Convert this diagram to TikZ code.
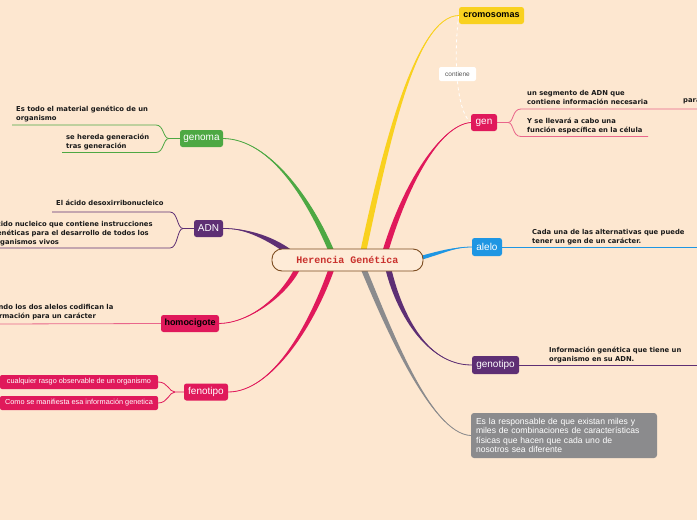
\documentclass[tikz,border=0pt]{standalone}
\usepackage{fontspec}
\setmainfont{Liberation Sans}
\newfontfamily\dvfont{DejaVu Sans}
\newfontfamily\monofont{Liberation Mono}
\usetikzlibrary{calc}
\definecolor{bg}{HTML}{FDE7D0}
\definecolor{gcol}{HTML}{4DA843}
\definecolor{pcol}{HTML}{5E2F74}
\definecolor{rcol}{HTML}{E0195B}
\definecolor{ycol}{HTML}{F9D11F}
\definecolor{bcol}{HTML}{1E96E3}
\definecolor{grcol}{HTML}{8B8B8D}
\definecolor{brownb}{HTML}{7C4C20}
\definecolor{cfill}{HTML}{FEEBD7}
\definecolor{cred}{HTML}{C9302C}
\definecolor{txt}{HTML}{1A1A1A}
\definecolor{pl}{HTML}{E9668B}
\definecolor{contc}{HTML}{555555}
\pgfdeclarelayer{bgfill}
\pgfdeclarelayer{background}
\pgfsetlayers{bgfill,background,main}
\newcommand\taperbranch[6]{%
  \fill[#1] ($(#2)+(#3)$) .. controls ($(#4)+(#3)$) and (#5) .. (#6) .. controls (#5) and ($(#4)-(#3)$) .. ($(#2)-(#3)$) -- cycle;
  \draw[#1,line width=0.8pt] (#2) .. controls (#4) and (#5) .. (#6);
}
\begin{document}
\begin{tikzpicture}[x=1pt,y=-1pt,
  topic/.style={rounded corners=2.5pt, inner sep=0pt, minimum height=17pt, text=white, font=\fontsize{10}{12}\selectfont},
  subtext/.style={inner sep=0pt, anchor=north west, align=left, text=txt, font=\dvfont\bfseries\fontsize{6.8}{8.8}\selectfont},
  thinline/.style={line width=0.8pt},
  pinkbox/.style={fill=rcol, rounded corners=2pt, minimum width=158pt, minimum height=14pt, inner sep=0pt, text=white, font=\fontsize{7.3}{8}\selectfont},
]
\useasboundingbox (0,0) rectangle (697,520);
\begin{pgfonlayer}{bgfill}
\fill[bg] (0,0) rectangle (697,520);
\end{pgfonlayer}
\clip (0,0) rectangle (697,520);

% nodes
\node[draw=brownb, fill=cfill, line width=0.9pt, rounded corners=10pt, minimum width=151pt, minimum height=22pt, inner sep=0pt, text=cred, font=\monofont\bfseries\fontsize{10}{12}\selectfont] (hg) at (347.5,260) {Herencia Genética};

\node[topic, fill=gcol, minimum width=43pt] (genoma) at (201.5,138.5) {genoma};
\node[topic, fill=pcol, minimum width=29pt] (adn) at (208.5,228.5) {ADN};
\node[topic, fill=rcol, minimum width=58pt, text=black, font=\bfseries\fontsize{9}{11}\selectfont] (homo) at (190,323.5) {homocigote};
\node[topic, fill=rcol, minimum width=44pt] (feno) at (206,392) {fenotipo};
\node[topic, fill=ycol, minimum width=65pt, text=black, font=\bfseries\fontsize{9}{11}\selectfont] (crom) at (491.5,15.5) {cromosomas};
\node[topic, fill=rcol, minimum width=26pt] (gen) at (484,122.5) {gen};
\node[topic, fill=bcol, minimum width=30pt, minimum height=18pt] (alelo) at (487,247) {alelo};
\node[topic, fill=pcol, minimum width=47pt, minimum height=18pt] (genotipo) at (495.5,365) {genotipo};
\node[fill=grcol, rounded corners=3pt, minimum width=186pt, minimum height=45pt, text width=176pt, inner xsep=5pt, inner ysep=0pt, align=left, text=white, font=\fontsize{8.6}{9.4}\selectfont] (gbox) at (564,435.5) {Es la responsable de que existan miles y\\ miles de combinaciones de características\\ físicas que hacen que cada uno de\\ nosotros sea diferente};

\node[fill=white, rounded corners=2pt, minimum width=37pt, minimum height=14pt, inner sep=0pt, text=contc, font=\fontsize{6.5}{8}\selectfont] (cont) at (457.5,74) {contiene};

\node[pinkbox] (f1) at (79,382) {cualquier rasgo observable de un organismo};
\node[pinkbox] (f2) at (79,403) {Como se manifiesta esa información genetica};

\node[subtext] (t1) at (16,106) {Es todo el material genético de un\\organismo};
\node[subtext] (t2) at (66,134) {se hereda generación\\tras generación};
\node[subtext] (t3) at (56,200) {El ácido desoxirribonucleico};
\node[subtext] (t4) at (-8,221) {ácido nucleico que contiene instrucciones\\genéticas para el desarrollo de todos los\\organismos vivos};
\node[subtext] (t5) at (-16,304) {Cuando los dos alelos codifican la\\información para un carácter};
\node[subtext] (t6) at (527,90) {un segmento de ADN que\\contiene información necesaria};
\node[subtext] (t7) at (683,98) {para};
\node[subtext] (t8) at (527,118) {Y se llevará a cabo una\\función específica en la célula};
\node[subtext] (t9) at (532,229) {Cada una de las alternativas que puede\\tener un gen de un carácter.};
\node[subtext] (t10) at (549,347) {Información genética que tiene un\\organismo en su ADN.};

\begin{pgfonlayer}{background}
% free ends
\coordinate (gU) at (12,125);
\coordinate (gL) at (62,152.5);
\coordinate (aU) at (52,212);
\coordinate (aL) at (-2,248);
\coordinate (hL) at (-2,324);
\coordinate (gnU) at (699,109);
\coordinate (gnL) at (648,136.5);
\coordinate (alR) at (699,247);
\coordinate (gtR) at (699,365);
% sub lines
\draw[gcol,thinline] (genoma.west) -- (169,138.5) .. controls (163,138.5) and (164,125) .. (156,125) -- (gU);
\draw[gcol,thinline] (169,138.5) .. controls (163,138.5) and (164,152.5) .. (156,152.5) -- (gL);
\draw[pcol,thinline] (adn.west) -- (183,228.5) .. controls (177,228.5) and (178,212) .. (170,212) -- (aU);
\draw[pcol,thinline] (183,228.5) .. controls (177,228.5) and (178,248) .. (170,248) -- (aL);
\draw[pl,thinline] (homo.west) -- (hL);
\draw[rcol,thinline] (feno.west) -- (175,392) .. controls (169,392) and (168,382) .. (f1.east);
\draw[rcol,thinline] (175,392) .. controls (169,392) and (168,403) .. (f2.east);
\draw[pl,thinline] (gen.east) -- (508,122.5) .. controls (514,122.5) and (512,109) .. (521,109) -- (gnU);
\draw[pl,thinline] (508,122.5) .. controls (514,122.5) and (512,136.5) .. (521,136.5) -- (gnL);
\draw[bcol,thinline] (alelo.east) -- (alR);
\draw[pcol,thinline] (genotipo.east) -- (gtR);
\draw[white,dashed,line width=0.8pt] (crom.west) .. controls (454,50) and (455,110) .. (gen.west);
% main branches
\coordinate (sG) at ($(hg.north)+(-15.5,4)$);
\coordinate (sY) at ($(hg.north)+(15.5,4)$);
\coordinate (sR) at ($(hg.north)+(37.5,4)$);
\coordinate (sB) at ($(hg.east)+(-3,-2)$);
\coordinate (sP) at ($(hg.south)+(40.5,-4)$);
\coordinate (sGr) at ($(hg.south)+(15.5,-4)$);
\coordinate (sF) at ($(hg.south)+(-15.5,-4)$);
\coordinate (sH) at ($(hg.south)+(-49.5,-4)$);
\coordinate (sA) at ($(hg.north)+(-57.5,4)$);
\taperbranch{gcol}{sG}{3,0}{310,200}{270,139}{genoma.east}
\taperbranch{ycol}{sY}{3,0}{385,150}{415,16}{crom.west}
\taperbranch{rcol}{sR}{3,0}{405,185}{440,125}{gen.west}
\taperbranch{bcol}{sB}{0,2}{442,252}{455,247}{alelo.west}
\taperbranch{pcol}{sP}{3,0}{398,310}{425,365}{genotipo.west}
\taperbranch{grcol}{sGr}{3,0}{385,320}{430,434}{gbox.west}
\taperbranch{rcol}{sF}{3,0}{312,325}{272,392}{feno.east}
\taperbranch{rcol}{sH}{3,0}{285,295}{250,323}{homo.east}
\taperbranch{pcol}{sA}{1.2,-2.8}{270,238}{245,228}{adn.east}
\end{pgfonlayer}
\end{tikzpicture}
\end{document}
